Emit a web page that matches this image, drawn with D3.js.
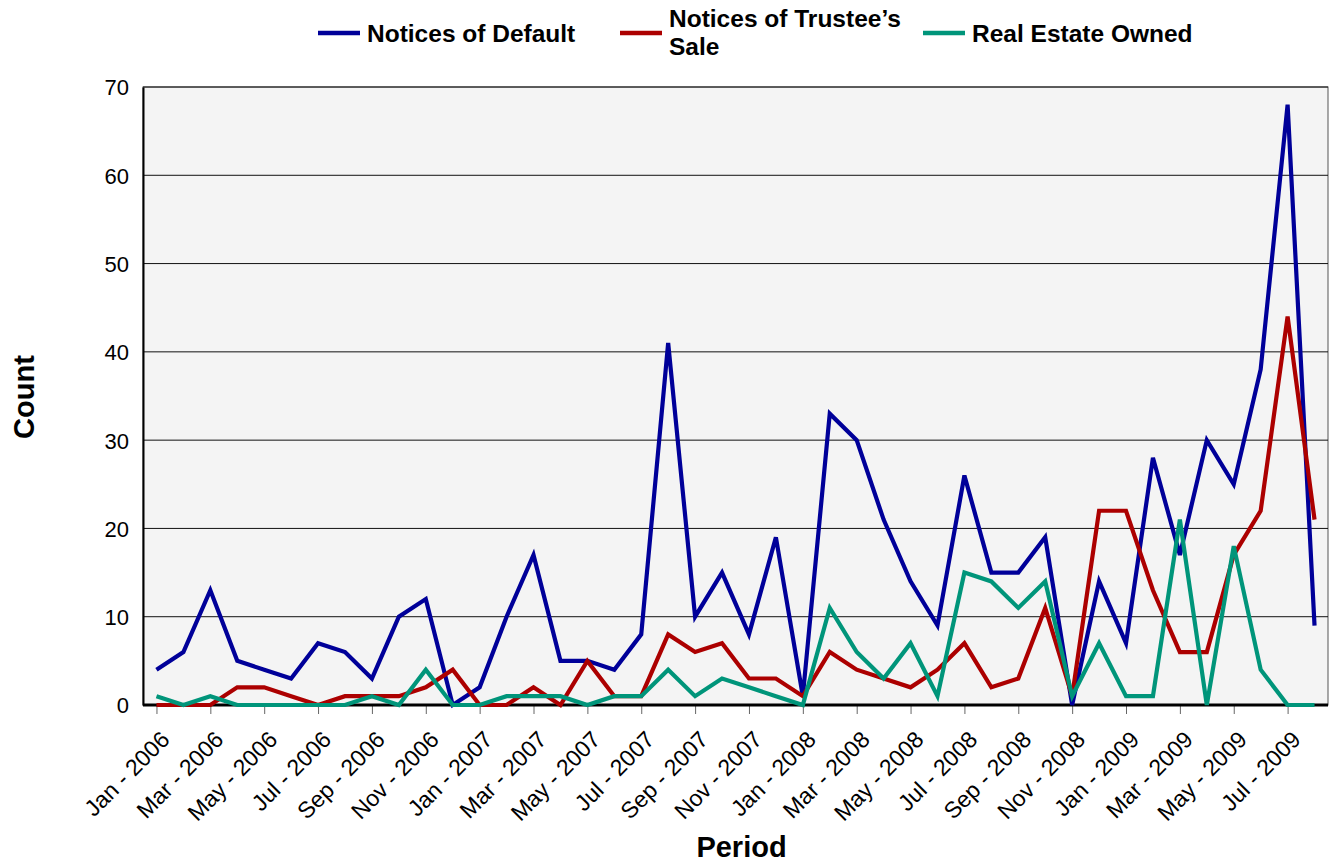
<!DOCTYPE html>
<html>
<head>
<meta charset="utf-8">
<script src="https://cdn.jsdelivr.net/npm/d3@7"></script>
<style>
  body { margin: 0; background: #fff; }
  text { font-family: "Liberation Sans", Arial, sans-serif; }
</style>
</head>
<body>
<svg id="chart" width="1333" height="865"></svg>
<script>
// categories: Jan 2006 .. Aug 2009
var monthNames = ["Jan","Feb","Mar","Apr","May","Jun","Jul","Aug","Sep","Oct","Nov","Dec"];
var years = [2006, 2007, 2008, 2009];
var periods = [];
years.forEach(function(y) {
    monthNames.forEach(function(m) {
        if (periods.length < 44) periods.push(m + " - " + y);
    });
});

var noticesOfDefault = [4, 6, 13, 5, 4, 3, 7, 6, 3, 10, 12, 0,
                        2, 10, 17, 5, 5, 4, 8, 41, 10, 15, 8, 19,
                        1, 33, 30, 21, 14, 9, 26, 15, 15, 19, 0, 14,
                        7, 28, 17, 30, 25, 38, 68, 9];
var trusteeSale     = [0, 0, 0, 2, 2, 1, 0, 1, 1, 1, 2, 4,
                        0, 0, 2, 0, 5, 1, 1, 8, 6, 7, 3, 3,
                        1, 6, 4, 3, 2, 4, 7, 2, 3, 11, 1, 22,
                        22, 13, 6, 6, 17, 22, 44, 21];
var realEstateOwned = [1, 0, 1, 0, 0, 0, 0, 0, 1, 0, 4, 0,
                       0, 1, 1, 1, 0, 1, 1, 4, 1, 3, 2, 1,
                       0, 11, 6, 3, 7, 1, 15, 14, 11, 14, 1, 7,
                       1, 1, 21, 0, 18, 4, 0, 0];
var yTicks = [0, 10, 20, 30, 40, 50, 60, 70];

var series = [
    {name: "Notices of Default", lines: ["Notices of Default"], values: noticesOfDefault, color: "#000099"},
    {name: "Notices of Trustee's Sale", lines: ["Notices of Trustee\u2019s", "Sale"], values: trusteeSale, color: "#ac0000"},
    {name: "Real Estate Owned", lines: ["Real Estate Owned"], values: realEstateOwned, color: "#00957a"}
];

var margin = {top: 87, right: 5, bottom: 160, left: 143},
    width = 1333 - margin.left - margin.right,
    height = 865 - margin.top - margin.bottom;

var svg = d3.select("#chart");
var g = svg.append("g")
    .attr("transform", "translate(" + margin.left + "," + margin.top + ")");

var x = d3.scalePoint().domain(periods).range([0, width]).padding(0.5);
var y = d3.scaleLinear().domain([0, 70]).range([height, 0]);

// plot background
g.append("rect")
    .attr("width", width)
    .attr("height", height)
    .style("fill", "#f4f4f4")
    .style("stroke", "#555")
    .style("stroke-width", 1);

// grid
g.append("g")
    .selectAll("line")
    .data(yTicks.slice(1))
    .enter()
    .append("line")
    .attr("x1", 0).attr("x2", width)
    .attr("y1", function(d) { return y(d); })
    .attr("y2", function(d) { return y(d); })
    .style("stroke", "#111")
    .style("stroke-width", 1);

// y axis
var yAxis = g.append("g")
    .call(d3.axisLeft(y).tickValues(yTicks).tickSize(0).tickPadding(14));
yAxis.select(".domain").style("stroke", "#000").style("stroke-width", 2);
yAxis.selectAll("text")
    .style("font-size", "22px")
    .style("fill", "#000")
    .attr("dy", "0.36em");

// x axis
var xAxis = g.append("g")
    .attr("transform", "translate(0," + height + ")")
    .call(d3.axisBottom(x)
        .tickValues(periods.filter(function(d, i) { return i % 2 === 0; }))
        .tickSize(9)
        .tickSizeOuter(0));
xAxis.select(".domain").remove();
xAxis.selectAll(".tick line").style("stroke", "#666").style("stroke-width", 1);
xAxis.selectAll("text")
    .style("font-size", "23px")
    .style("fill", "#000")
    .style("text-anchor", "end")
    .attr("x", 0)
    .attr("y", 0)
    .attr("dy", 0)
    .attr("transform", "translate(14,36) rotate(-45)");

// bottom axis line
g.append("line")
    .attr("x1", 0).attr("x2", width)
    .attr("y1", height).attr("y2", height)
    .style("stroke", "#000")
    .style("stroke-width", 3);

// series lines
var line = d3.line()
    .x(function(d, i) { return x(periods[i]); })
    .y(function(d) { return y(d); });

g.append("g")
    .selectAll("path")
    .data(series)
    .enter()
    .append("path")
    .attr("d", function(d) { return line(d.values); })
    .style("fill", "none")
    .style("stroke", function(d) { return d.color; })
    .style("stroke-width", 4.2)
    .style("stroke-linejoin", "miter");

// legend
var legendX = [318, 620, 923];
var legend = svg.append("g")
    .selectAll("g")
    .data(series)
    .enter()
    .append("g")
    .attr("transform", function(d, i) { return "translate(" + legendX[i] + ",33)"; });

legend.append("line")
    .attr("x1", 0).attr("x2", 42)
    .style("stroke", function(d) { return d.color; })
    .style("stroke-width", 4.5);

legend.each(function(d) {
    var t = d3.select(this).append("text")
        .attr("x", 49)
        .style("font-size", "24.5px")
        .style("font-weight", "bold")
        .style("fill", "#000");
    var y0 = d.lines.length > 1 ? -6 : 9;
    d.lines.forEach(function(s, k) {
        t.append("tspan").attr("x", 49).attr("y", y0 + k * 28).text(s);
    });
});

// axis titles
svg.append("text")
    .attr("transform", "translate(34," + (margin.top + height / 2 + 1) + ") rotate(-90)")
    .style("text-anchor", "middle")
    .style("font-size", "29px")
    .style("font-weight", "bold")
    .text("Count");

svg.append("text")
    .attr("x", margin.left + width / 2 + 6)
    .attr("y", 857)
    .style("text-anchor", "middle")
    .style("font-size", "29px")
    .style("font-weight", "bold")
    .text("Period");
</script>
</body>
</html>
